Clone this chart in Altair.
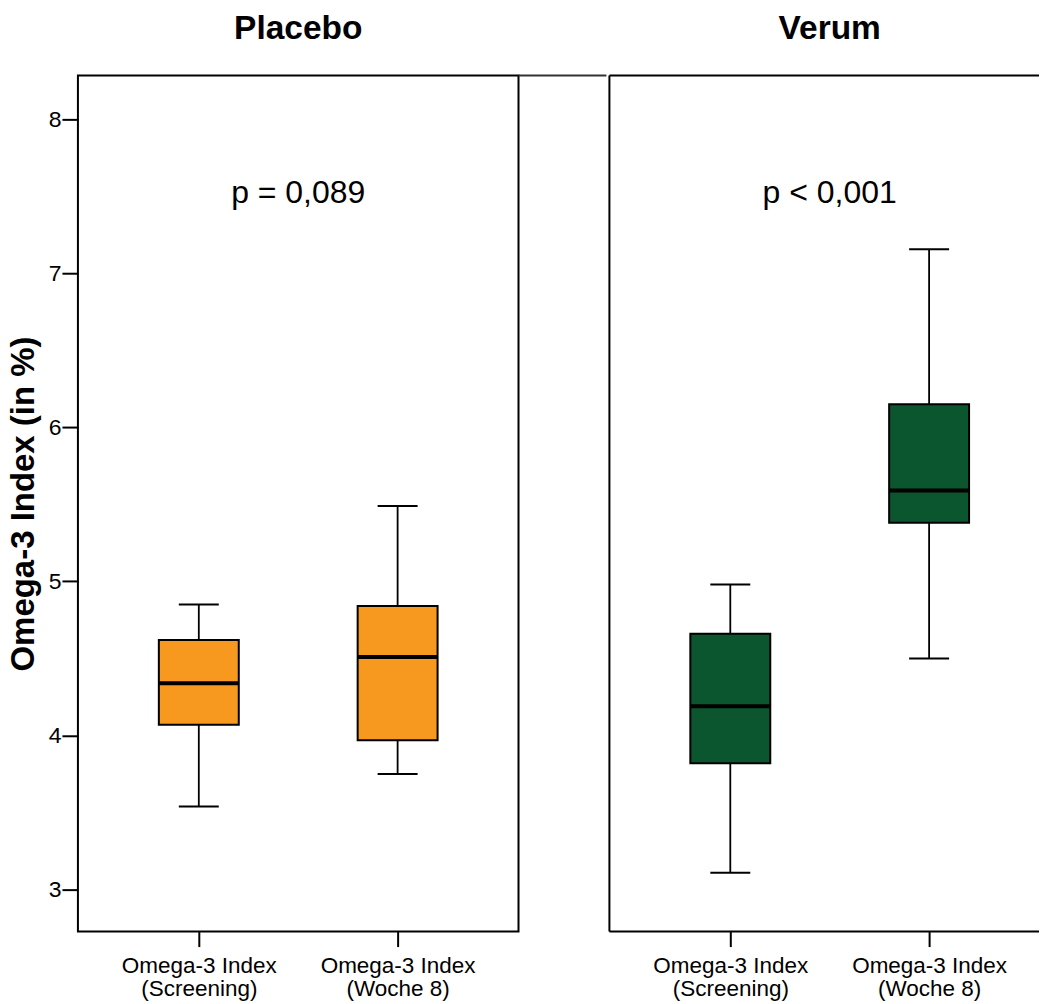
import altair as alt
import pandas as pd

# ---- data ----
groups = ["Placebo", "Placebo", "Verum", "Verum"]
categories = ["Omega-3 Index (Screening)", "Omega-3 Index (Woche 8)"]
times = categories * 2
lower = [3.54, 3.75, 3.11, 4.50]
q1 = [4.07, 3.97, 3.82, 5.38]
median = [4.34, 4.51, 4.19, 5.59]
q3 = [4.62, 4.84, 4.66, 6.15]
upper = [4.85, 5.49, 4.98, 7.155]
panel_names = ["Placebo", "Verum"]
p_labels = ["p = 0,089", "p < 0,001"]
panel_colors = ["#F7991E", "#0B562E"]
y_ticks = [3, 4, 5, 6, 7, 8]
y_title = "Omega-3 Index (in %)"

df = pd.DataFrame({
    "group": groups, "time": times, "lower": lower, "q1": q1,
    "median": median, "q3": q3, "upper": upper,
})

W_FULL = 441          # nominal panel width (right panel is cut by the image edge)
WIDTHS = [441, 430]
H = 857
GAP = 88
STEP = 199
FONT = "Liberation Sans"
one = pd.DataFrame({"t": [0]})


def panel(i):
    g = panel_names[i]
    first = i == 0
    W = WIDTHS[i]
    # keep category positions as in a full-width panel
    pad_i = (W / STEP - 1) / 2
    align = ((W_FULL - STEP) / 2) / (W - STEP)
    base = alt.Chart(df).transform_filter(alt.datum.group == g)
    x = alt.X(
        "time:N", title=None, sort=categories,
        scale=alt.Scale(type="point", padding=pad_i, align=align),
        axis=alt.Axis(
            labelExpr="[slice(datum.label, 0, 13), slice(datum.label, 14)]",
            labelAngle=0, ticks=True, tickSize=15, tickWidth=2,
            tickColor="black", domain=False, labelFont=FONT,
            labelFontSize=22.5, labelLineHeight=23, labelColor="black",
            labelPadding=8, grid=False,
        ),
    )
    yscale = alt.Scale(domain=[2.728, 8.283], nice=False, zero=False)
    if first:
        yaxis = alt.Axis(
            values=y_ticks, format="d", title=y_title, grid=False, domain=False,
            tickSize=16, tickWidth=2, tickColor="black", labelPadding=1,
            labelFont=FONT, labelFontSize=23, labelColor="black",
            titleFont=FONT, titleFontSize=33, titleFontWeight="bold",
            titleColor="black", titlePadding=8,
        )
        y = alt.Y("lower:Q", scale=yscale, axis=yaxis)
    else:
        y = alt.Y("lower:Q", scale=yscale, axis=None)

    whisk = base.mark_rule(color="black", strokeWidth=1.8).encode(
        x=x, y=y, y2="upper:Q")
    box = base.mark_bar(size=80, fill=panel_colors[i], stroke="black",
                        strokeWidth=2).encode(x=x, y="q1:Q", y2="q3:Q")
    med = base.mark_tick(size=80, thickness=4, color="black", opacity=1).encode(
        x=x, y="median:Q")
    cap_lo = base.mark_tick(size=40, thickness=2, color="black", opacity=1).encode(
        x=x, y="lower:Q")
    cap_hi = base.mark_tick(size=40, thickness=2, color="black", opacity=1).encode(
        x=x, y="upper:Q")
    ptext = alt.Chart(pd.DataFrame({"t": [p_labels[i]]})).mark_text(
        font=FONT, fontSize=32, baseline="middle", align="center",
        color="black").encode(
        x=alt.value(W_FULL / 2), y=alt.value(118), text="t:N")
    title = alt.Chart(pd.DataFrame({"t": [g]})).mark_text(
        font=FONT, fontSize=33.5, fontWeight="bold", baseline="alphabetic",
        align="center", color="black").encode(
        x=alt.value(W_FULL / 2), y=alt.value(-36), text="t:N")
    layers = [whisk, box, med, cap_lo, cap_hi, ptext, title]
    if first:
        conn = alt.Chart(one).mark_rule(color="#333333", strokeWidth=2).encode(
            x=alt.value(W), x2=alt.value(W + GAP), y=alt.value(0))
        layers.append(conn)
        view = alt.ViewBackground(stroke="black", strokeWidth=2)
    else:
        top = alt.Chart(one).mark_rule(color="black", strokeWidth=2).encode(
            x=alt.value(0), x2=alt.value(W), y=alt.value(0))
        bot = alt.Chart(one).mark_rule(color="black", strokeWidth=2).encode(
            x=alt.value(0), x2=alt.value(W), y=alt.value(H))
        left = alt.Chart(one).mark_rule(color="black", strokeWidth=2).encode(
            x=alt.value(0), y=alt.value(0), y2=alt.value(H))
        layers += [top, bot, left]
        view = alt.ViewBackground(strokeOpacity=0)
    return alt.layer(*layers).properties(width=W, height=H, view=view)


chart = alt.hconcat(panel(0), panel(1), spacing=0).properties(
    padding={"left": 6, "top": 11, "right": 0, "bottom": 0}
).configure(background="white")

chart.save("out.html", embed_options={"renderer": "svg", "actions": False})
